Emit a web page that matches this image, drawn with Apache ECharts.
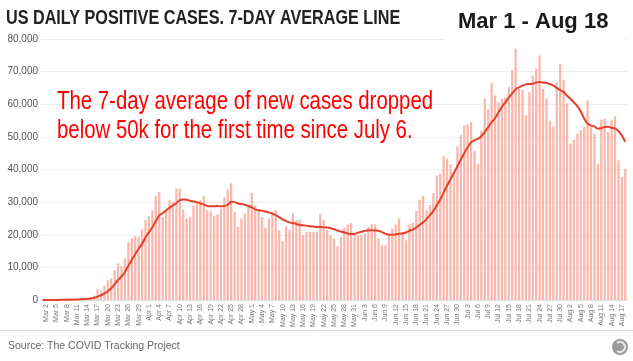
<!DOCTYPE html>
<html><head><meta charset="utf-8">
<script src="https://cdn.jsdelivr.net/npm/echarts@6/dist/echarts.min.js"></script>
<style>html,body{margin:0;padding:0;background:#fff}#c{width:633px;height:361px}</style>
</head><body><div id="c"></div>
<script>
// Dates: Mar 1 .. Aug 18
const months = [['Mar',31],['Apr',30],['May',31],['Jun',30],['Jul',31],['Aug',18]];
const categories = [];
months.forEach(([m,n]) => { for (let d = 1; d <= n; d++) categories.push(m + ' ' + d); });

// Daily positive cases
const dailyCases = [
  10,20,25,45,60,110,140,100,260,220,350,430,690,700,860,1320,
  3400,2900,4400,6000,6600,9200,11200,10400,12800,17700,19000,19600,19400,21600,24500,
  25700,27500,31800,33100,25500,27000,30600,30100,34200,34200,27700,25000,25500,29000,30100,
  30600,31800,27500,27200,25700,26200,28000,31600,33900,35700,27000,22400,25000,26500,29000,
  32800,29000,27700,25500,22200,25000,27000,27500,21400,18000,22600,21400,26700,24500,24500,
  19900,20900,20900,20900,20900,26300,24500,21400,19900,18900,16500,19400,22200,23200,23600,20200,
  19900,19900,20400,22400,23200,23200,18900,16800,16800,20400,21900,23200,25000,20900,18300,
  23200,23600,27300,30800,31900,27500,29000,32800,38200,38700,44000,43300,41600,39200,47100,
  50500,53500,53800,54500,45700,41600,52000,61700,58600,66500,62700,60600,61700,62200,65200,
  70500,77000,64700,64400,56600,63700,68800,70900,74900,64700,61700,55000,53200,66800,72400,67500,
  60300,47900,49100,51000,52000,53000,61200,53000,51000,41600,55300,55600,51500,55300,56300,
  42800,37700,40300
];

// 7-day average line
const avgLine = [
  5,10,15,22,30,45,60,75,105,130,170,215,300,380,490,650,
  1050,1400,2000,2700,3600,4800,6200,7200,8600,10500,12300,14000,15700,17200,19200,
  20800,22300,24200,25900,26600,27400,28300,29000,29700,30600,30800,30700,30400,30200,30000,
  29600,29300,28800,28700,28700,28800,28700,28800,29200,30100,30000,29600,29400,29200,28800,
  28400,27800,27500,27400,27100,26800,26500,26000,25400,24700,24200,23800,23600,23300,23000,
  22900,22800,22600,22500,22400,22400,22300,22200,22000,21700,21300,21000,20700,20400,20200,20300,
  20600,20900,21200,21400,21400,21300,21200,20800,20300,20000,20000,20100,20300,20400,20700,
  21200,21600,22200,23000,23800,24800,26000,27300,29000,30800,32900,35000,37000,39000,41000,
  43000,45000,46800,48300,49000,49400,50200,51500,53000,54500,55700,57500,59200,60600,62000,
  63300,64600,65200,65700,66100,66200,66300,66700,66800,66700,66500,66200,65700,65000,64300,63800,
  62600,61700,60600,59400,57800,55600,54000,53500,53200,52500,52700,53000,53100,52800,52600,
  51800,50400,48500
];

const yTicks = [0,10000,20000,30000,40000,50000,60000,70000,80000];

const chart = echarts.init(document.getElementById('c'), null, {renderer:'canvas'});
chart.setOption({
  animation: false,
  backgroundColor: '#fff',
  grid: { left: 41, right: 6, top: 39, bottom: 61, containLabel: false },
  xAxis: {
    type: 'category', data: categories, boundaryGap: true,
    axisTick: { show: false },
    axisLine: { lineStyle: { color: '#dcdcdc' } },
    axisLabel: {
      rotate: 90, fontSize: 7, color: '#777', margin: 4,
      fontFamily: 'Liberation Sans',
      interval: (i) => i % 3 === 1
    }
  },
  yAxis: {
    type: 'value', min: yTicks[0], max: yTicks[yTicks.length-1], interval: 10000,
    axisLine: { show: false }, axisTick: { show: false },
    axisLabel: { fontSize: 10, color: '#555', margin: 3, fontFamily: 'Liberation Sans',
      formatter: v => v.toLocaleString('en-US') },
    splitLine: { lineStyle: { color: '#eeeeee' } }
  },
  series: [
    { type: 'bar', data: dailyCases, barCategoryGap: '35%',
      itemStyle: { color: '#f9b6ab' } },
    { type: 'line', data: avgLine, showSymbol: false, smooth: 0.3,
      lineStyle: { color: '#e5402b', width: 2 }, z: 5 }
  ],
  graphic: [
    { type: 'rect', shape: { x: 445, y: 0, width: 180, height: 41 }, style: { fill: '#fff' }, z: 100 },
    { type: 'text', x: 6, y: 9, scaleX: 0.83, z: 101,
      style: { text: 'US DAILY POSITIVE CASES. 7-DAY AVERAGE LINE', fill: '#222',
        verticalAlign: 'top', align: 'left',
        font: 'bold 19.5px "Liberation Sans", Arial, sans-serif' } },
    { type: 'text', x: 458, y: 11, z: 101,
      style: { text: 'Mar 1 - Aug 18', fill: '#1a1a1a', verticalAlign: 'top', align: 'left',
        font: 'bold 22px "Liberation Sans", Arial, sans-serif' } },
    { type: 'text', x: 57, y: 88, scaleX: 0.815, z: 101,
      style: { text: 'The 7-day average of new cases dropped\nbelow 50k for the first time since July 6.',
        fill: '#ff0000', lineHeight: 29, verticalAlign: 'top', align: 'left',
        font: '25px "Liberation Sans", Arial, sans-serif' } },
    { type: 'line', shape: { x1: 0, y1: 330.5, x2: 633, y2: 330.5 }, style: { stroke: '#dddddd', lineWidth: 1 }, z: 101 },
    { type: 'text', x: 8, y: 341, z: 101,
      style: { text: 'Source: The COVID Tracking Project', fill: '#666', verticalAlign: 'top', align: 'left',
        font: '10.5px "Liberation Sans", sans-serif' } },
    { type: 'circle', shape: { cx: 620, cy: 347, r: 8 }, style: { fill: '#9a9a9a' }, z: 101 },
    { type: 'arc', shape: { cx: 620, cy: 347, r: 5, startAngle: -2.2, endAngle: 2.2 }, style: { stroke: '#e8e8e8', lineWidth: 2, fill: null }, z: 102 }
  ]
});
</script></body></html>
